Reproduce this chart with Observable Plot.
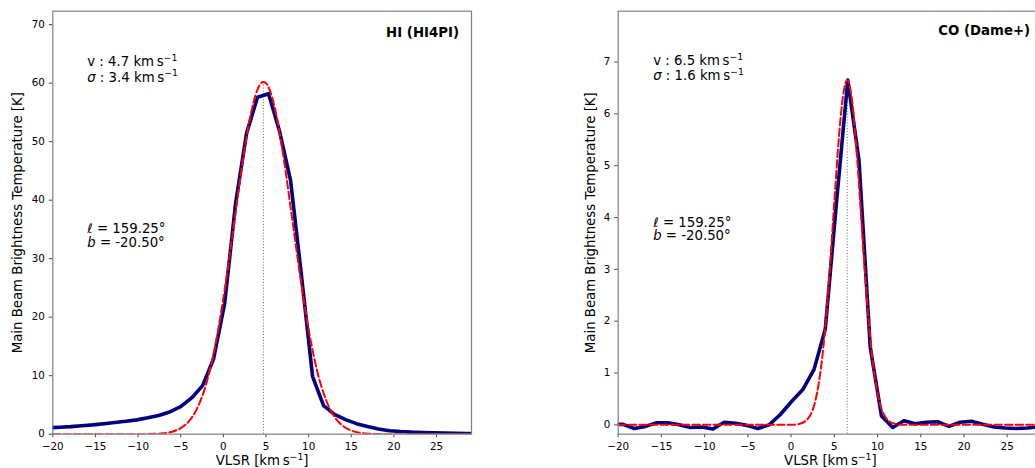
<!DOCTYPE html>
<html><head><meta charset="utf-8">
<script src="https://cdn.jsdelivr.net/npm/d3@7"></script>
<script src="https://cdn.jsdelivr.net/npm/@observablehq/plot@0.6"></script>
<style>
html,body{margin:0;padding:0;background:#fff;overflow:hidden;width:1035px;height:468px}
#wrap{position:relative;width:1035px;height:468px;overflow:hidden;background:#fff}
#wrap svg{position:absolute;top:0}
</style></head><body><div id="wrap"></div>
<script>
// ---- HI (HI4PI) spectrum ----
const hiVelocity = [-20.46,-19.17,-17.88,-16.6,-15.31,-14.02,-12.73,-11.44,-10.15,-8.87,-7.58,-6.29,-5.0,-3.72,-2.43,-1.14,0.15,1.44,2.73,4.01,5.3,6.59,7.88,9.17,10.46,11.75,13.03,14.32,15.61,16.9,18.19,19.48,20.76,22.05,23.34,24.63,25.92,27.21,28.49,29.78];
const hiTemp = [1.1,1.2,1.3,1.45,1.6,1.8,2.0,2.2,2.45,2.8,3.2,3.8,4.7,6.2,8.3,12.9,22.3,39.5,51.5,57.6,58.2,51.8,43.4,27,9.9,4.9,3.4,2.5,1.8,1.3,0.9,0.6,0.45,0.35,0.3,0.25,0.2,0.15,0.12,0.1];
const hiFitVelocity = [-20,-15,-10,-8,-7,-6,-5,-4,-3,-2,-1,0,1,2,3,4,4.7,5,6,7,8,9,10,11,12,13,14,15,16,17,18,19,20,25,29.5];
const hiFitTemp = [0,0,0,0.06,0.16,0.43,1.03,2.28,4.63,8.63,14.8,23.2,33.3,43.9,53.1,58.9,60.2,60.0,56.0,47.9,37.6,27.1,17.9,10.8,6.0,3.06,1.43,0.61,0.24,0.08,0.03,0.01,0,0,0];
const hiCenter = 4.7, hiPeak = 60.2;
const hiYTicks = [0,10,20,30,40,50,60,70];

// ---- CO (Dame+) spectrum ----
const coVelocity = [-20.74,-19.44,-18.14,-16.84,-15.54,-14.24,-12.94,-11.64,-10.34,-9.04,-7.74,-6.44,-5.14,-3.84,-2.54,-1.24,0.06,1.36,2.66,3.96,5.26,6.56,7.86,9.16,10.46,11.76,13.06,14.36,15.66,16.96,18.26,19.56,20.86,22.16,23.46,24.76,26.06,27.36,28.66,29.96];
const coTemp = [0.01,0.01,-0.07,-0.03,0.04,0.04,0.0,-0.05,-0.04,-0.08,0.05,0.03,-0.01,-0.07,0.0,0.2,0.45,0.68,1.07,1.85,4.3,6.65,5.1,1.5,0.17,-0.05,0.08,0.02,0.05,0.06,-0.03,0.05,0.07,0.01,-0.04,-0.06,-0.07,-0.06,-0.04,-0.03];
const coFitVelocity = [-20,-10,-2,0,1,2,2.5,3,3.5,4,4.5,5,5.5,6,6.5,7,7.5,8,8.5,9,9.5,10,10.5,11,12,13,15,20,29.5];
const coFitTemp = [0,0,0,0,0.02,0.13,0.29,0.61,1.15,1.96,3.05,4.29,5.47,6.33,6.65,6.33,5.47,4.29,3.05,1.96,1.15,0.61,0.29,0.13,0.02,0,0,0,0];
const coCenter = 6.5, coPeak = 6.65;
const coYTicks = [0,1,2,3,4,5,6,7];

const xTicks = [-20,-15,-10,-5,0,5,10,15,20,25];
const xLabel = "VLSR [km\u2009s^{\u22121}]";
const yLabel = "Main Beam Brightness Temperature [K]";
const hiTitle = "HI (HI4PI)";
const coTitle = "CO (Dame+)";
const hiFitText = ["v : 4.7 km\u2009s^{\u22121}", "*σ* : 3.4 km\u2009s^{\u22121}"];
const coFitText = ["v : 6.5 km\u2009s^{\u22121}", "*σ* : 1.6 km\u2009s^{\u22121}"];
const posText = ["*ℓ* = 159.25°", "*b* = -20.50°"];

const tickFmt = d => d < 0 ? "\u2212" + Math.abs(d) : String(d);

function panel(cfg) {
  const obs = cfg.v.map((v, i) => ({v, T: cfg.T[i]}));
  const fit = cfg.fv.map((v, i) => ({v, T: cfg.fT[i]}));
  const big = 13.3;
  const svg = Plot.plot({
    width: cfg.width, height: 468,
    marginLeft: cfg.marginLeft, marginRight: cfg.marginRight, marginTop: 10.7, marginBottom: 34.3,
    style: {fontFamily: "'DejaVu Sans', sans-serif", fontSize: "10.3px", color: "#000", background: "transparent"},
    x: {domain: [-20, 29.1]},
    y: {domain: cfg.yDomain},
    marks: [
      Plot.ruleX([{v: cfg.center, lo: cfg.ruleLo, hi: cfg.peak}], {x: "v", y1: "lo", y2: "hi", stroke: "#808080", strokeWidth: 1.1, strokeDasharray: "1.1,1.8"}),
      Plot.line(obs, {x: "v", y: "T", stroke: "#000080", strokeWidth: 3.6, strokeLinejoin: "round", clip: true}),
      Plot.line(fit, {x: "v", y: "T", stroke: "#ff0000", strokeWidth: 2, strokeDasharray: "7.4,3.2", curve: "monotone-x", clip: true}),
      Plot.axisX({ticks: xTicks, tickFormat: tickFmt, tickSize: 3.5, tickPadding: 4.5, label: null, stroke: "#444"}),
      Plot.axisY({ticks: cfg.yTicks, tickFormat: tickFmt, tickSize: 3.5, tickPadding: 4.5, label: null, stroke: "#444"}),
      Plot.frame({stroke: "#808080", strokeWidth: 1.2}),
      Plot.text([cfg.title], {text: d => d, frameAnchor: "top-right", textAnchor: "end", lineAnchor: "bottom", dx: -12.5, dy: cfg.titleDy, fontSize: big, fontWeight: "bold"}),
      Plot.text([cfg.fitText[0]], {text: d => d, frameAnchor: "top-left", textAnchor: "start", lineAnchor: "bottom", dx: cfg.textDx, dy: cfg.fitDy[0], fontSize: big}),
      Plot.text([cfg.fitText[1]], {text: d => d, frameAnchor: "top-left", textAnchor: "start", lineAnchor: "bottom", dx: cfg.textDx, dy: cfg.fitDy[1], fontSize: big}),
      Plot.text([posText[0]], {text: d => d, frameAnchor: "top-left", textAnchor: "start", lineAnchor: "bottom", dx: cfg.textDx, dy: cfg.posDy[0], fontSize: big}),
      Plot.text([posText[1]], {text: d => d, frameAnchor: "top-left", textAnchor: "start", lineAnchor: "bottom", dx: cfg.textDx, dy: cfg.posDy[1], fontSize: big}),
      Plot.text([xLabel], {text: d => d, frameAnchor: "bottom", textAnchor: "middle", lineAnchor: "bottom", dy: 31, fontSize: big}),
      Plot.text([yLabel], {text: d => d, frameAnchor: "left", textAnchor: "middle", lineAnchor: "middle", rotate: -90, dx: cfg.yLabelDx, fontSize: big})
    ]
  });
  // rich text: *italic* and ^{superscript}
  d3.select(svg).selectAll("text").each(function () {
    const s = this.textContent;
    if (!/\*|\^\{/.test(s)) return;
    const fs = parseFloat(this.getAttribute("font-size")) || big;
    const parts = s.split(/(\^\{[^}]*\}|\*[^*]*\*)/).filter(p => p.length);
    this.textContent = "";
    let shift = 0;
    for (const p of parts) {
      const t = document.createElementNS("http://www.w3.org/2000/svg", "tspan");
      if (p.startsWith("^{")) {
        t.textContent = p.slice(2, -1);
        t.setAttribute("font-size", (fs * 0.7).toFixed(2));
        t.setAttribute("dy", (-fs * 0.42).toFixed(2));
        shift = fs * 0.42;
      } else {
        if (p.startsWith("*")) { t.textContent = p.slice(1, -1); t.setAttribute("font-style", "italic"); }
        else t.textContent = p;
        if (shift) { t.setAttribute("dy", shift.toFixed(2)); shift = 0; }
      }
      this.appendChild(t);
    }
  });
  svg.style.left = cfg.left + "px";
  return svg;
}

const wrap = document.getElementById("wrap");
wrap.appendChild(panel({
  left: 0, width: 480, marginLeft: 52.3, marginRight: 9,
  v: hiVelocity, T: hiTemp, fv: hiFitVelocity, fT: hiFitTemp,
  center: hiCenter, peak: hiPeak, ruleLo: 0, yDomain: [0, 72.3], yTicks: hiYTicks,
  title: hiTitle, titleDy: 26, fitText: hiFitText, textDx: 34.4,
  fitDy: [55, 70.3], posDy: [221.6, 236], yLabelDx: -35
}));
wrap.appendChild(panel({
  left: 565, width: 497.1, marginLeft: 52.7, marginRight: 20,
  v: coVelocity, T: coTemp, fv: coFitVelocity, fT: coFitTemp,
  center: coCenter, peak: coPeak, ruleLo: -0.18, yDomain: [-0.18, 7.98], yTicks: coYTicks,
  title: coTitle, titleDy: 24.3, fitText: coFitText, textDx: 35,
  fitDy: [54.3, 69.3], posDy: [216, 229.3], yLabelDx: -27.7
}));
</script></body></html>
